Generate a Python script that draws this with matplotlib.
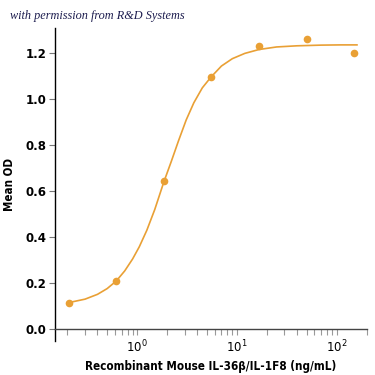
import numpy as np
import matplotlib
matplotlib.use('Agg')
from matplotlib import pyplot as plt

# measured points (3-fold dilution series)
conc = [0.206, 0.617, 1.85, 5.56, 16.7, 50, 150]
od = [0.114, 0.209, 0.645, 1.097, 1.232, 1.261, 1.203]

# fitted curve
fit_x = [0.206, 0.3, 0.4, 0.5, 0.617, 0.75, 0.9, 1.05, 1.25, 1.5, 1.85, 2.2,
         2.6, 3.1, 3.7, 4.5, 5.5, 7, 9, 12, 16.7, 25, 40, 70, 110, 160]
fit_y = [0.115, 0.130, 0.151, 0.176, 0.209, 0.253, 0.305, 0.358, 0.430, 0.520,
         0.640, 0.730, 0.820, 0.910, 0.985, 1.050, 1.097, 1.145, 1.177, 1.200,
         1.217, 1.228, 1.233, 1.236, 1.237, 1.237]

orange = '#E9A035'

plt.rcParams['font.family'] = ['DejaVu Sans']

fig = plt.figure(figsize=(3.75, 3.75), dpi=100)
ax = fig.add_axes([0.1467, 0.092, 0.831, 0.833])

ax.plot(fit_x, fit_y, color=orange, lw=1.2, zorder=2)
ax.plot(conc, od, 'o', color=orange, ms=5.5, mec='none', zorder=3)

ax.set_xscale('log')
ax.set_xlim(0.15, 200)
ax.set_ylim(-0.05, 1.31)
ax.set_yticks([0.0, 0.2, 0.4, 0.6, 0.8, 1.0, 1.2])
ax.set_yticklabels(['0.0', '0.2', '0.4', '0.6', '0.8', '1.0', '1.2'])

ax.spines['top'].set_visible(False)
ax.spines['right'].set_visible(False)
ax.spines['bottom'].set_position(('data', 0))
ax.spines['left'].set_linewidth(1.0)
ax.spines['bottom'].set_linewidth(1.0)
ax.spines['bottom'].set_color('#444444')

ax.tick_params(axis='y', direction='out', length=4, width=0.8, color='#777777',
               labelsize=8.5, pad=2)
ax.tick_params(axis='x', which='both', direction='out', length=4, width=0.8,
               color='#999999', labelsize=8.5, pad=3)
for lab in ax.get_yticklabels():
    lab.set_fontweight('bold')

ax.set_ylabel('Mean OD', fontsize=8.3, fontweight='bold', fontstretch='condensed',
              labelpad=7)
ax.set_xlabel('Recombinant Mouse IL-36β/IL-1F8 (ng/mL)', fontsize=8.4,
              fontweight='bold', fontstretch='condensed', labelpad=3)

fig.text(0.027, 0.948, 'with permission from R&D Systems', fontsize=8.8,
         style='italic', family=['Liberation Serif', 'DejaVu Serif'], color='#1d1d4f')

plt.savefig('out.png', dpi=100)
plt.close()
